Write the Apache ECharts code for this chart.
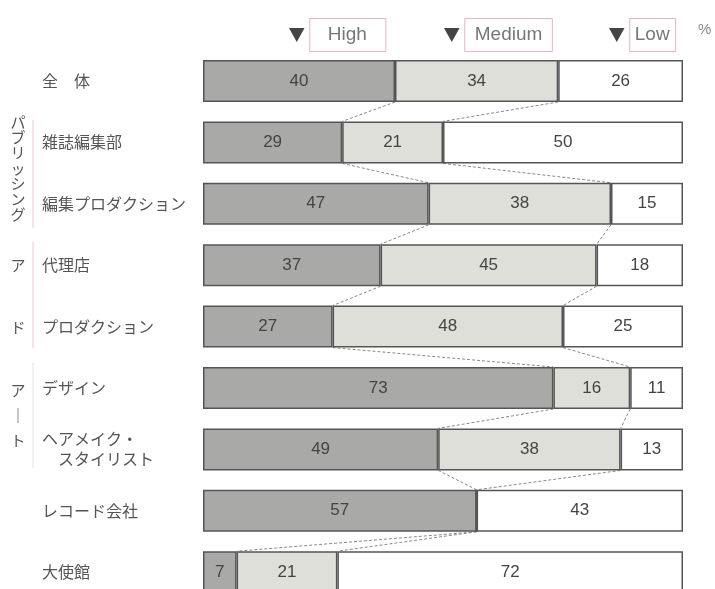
<!DOCTYPE html>
<html>
<head>
<meta charset="utf-8">
<script src="https://cdn.jsdelivr.net/npm/echarts@6/dist/echarts.min.js"></script>
<style>
  html, body { margin: 0; padding: 0; background: #fff; }
  #chart { width: 715px; height: 589px; }
</style>
</head>
<body>
<div id="chart"></div>
<script>
// カテゴリと値（％）
const categories = ['全体', '雑誌編集部', '編集プロダクション', '代理店', 'プロダクション',
    'デザイン', 'ヘアメイク・スタイリスト', 'レコード会社', '大使館'];
const highValues = [40, 29, 47, 37, 27, 73, 49, 57, 7];
const mediumValues = [34, 21, 38, 45, 48, 16, 38, 0, 21];
const lowValues = [26, 50, 15, 18, 25, 11, 13, 43, 72];

// 表示用ラベル
const labelText = {
    '全体': '全　体',
    'ヘアメイク・スタイリスト': 'ヘアメイク・\n　スタイリスト'
};

const BAR_W = 42;
const TRI = 'path://M0,0 L10,0 L5,9 Z';

// 隣り合う棒の境界をつなぐ点線
const connectors = [];
for (let i = 0; i < categories.length - 1; i++) {
    connectors.push([highValues[i], i, highValues[i + 1], i + 1]);
    connectors.push([highValues[i] + mediumValues[i], i, highValues[i + 1] + mediumValues[i + 1], i + 1]);
}

const chart = echarts.init(document.getElementById('chart'));

const numLabel = {
    show: true,
    position: 'inside',
    fontFamily: 'Liberation Sans',
    fontSize: 17,
    color: '#444',
    formatter: p => p.value > 0 ? p.value : ''
};
const segBorder = { borderColor: '#555', borderWidth: 1.5 };

function legendItem(name, left, pad) {
    return {
        left: left,
        top: 13,
        itemWidth: 16,
        itemHeight: 14,
        itemGap: 0,
        selectedMode: false,
        data: [{ name: name, icon: TRI, itemStyle: { color: '#444', borderWidth: 0 } }],
        textStyle: {
            fontFamily: 'Liberation Sans',
            fontSize: 19,
            color: '#777',
            borderColor: '#e8b3c0',
            borderWidth: 1,
            padding: pad
        }
    };
}

chart.setOption({
    animation: false,
    legend: [
        legendItem('High', 284, [7, 19, 7, 18]),
        legendItem('Medium', 439, [7, 10, 7, 10]),
        legendItem('Low', 604, [7, 6, 7, 5])
    ],
    grid: { left: 203, width: 480, top: 50.3, height: 552.6, outerBoundsMode: 'none', containLabel: false },
    xAxis: { type: 'value', min: 0, max: 100, show: false },
    yAxis: {
        type: 'category',
        data: categories,
        inverse: true,
        axisLine: { show: false },
        axisTick: { show: false },
        axisLabel: {
            align: 'left',
            margin: 161,
            fontFamily: 'Noto Sans CJK JP',
            fontSize: 16,
            lineHeight: 20,
            color: '#555',
            formatter: v => labelText[v] || v
        }
    },
    series: [
        {
            name: 'High', type: 'bar', stack: 'all', barWidth: BAR_W,
            data: highValues,
            itemStyle: Object.assign({ color: '#a9aaa7' }, segBorder),
            label: numLabel
        },
        {
            name: 'Medium', type: 'bar', stack: 'all', barWidth: BAR_W,
            data: mediumValues,
            itemStyle: Object.assign({ color: '#dfdfda' }, segBorder),
            label: numLabel
        },
        {
            name: 'Low', type: 'bar', stack: 'all', barWidth: BAR_W,
            data: lowValues,
            itemStyle: Object.assign({ color: '#ffffff' }, segBorder),
            label: numLabel
        },
        {
            type: 'custom',
            data: connectors,
            encode: { x: [0, 2], y: [1, 3] },
            silent: true,
            z: 1,
            renderItem: (params, api) => {
                const a = api.coord([api.value(0), api.value(1)]);
                const b = api.coord([api.value(2), api.value(3)]);
                return {
                    type: 'line',
                    shape: { x1: a[0], y1: a[1] + BAR_W / 2, x2: b[0], y2: b[1] - BAR_W / 2 },
                    style: { stroke: '#888', lineWidth: 1, lineDash: [3, 2] }
                };
            }
        }
    ],
    graphic: [
        { type: 'text', left: 698, top: 22,
          style: { text: '%', fontFamily: 'Liberation Sans', fontSize: 15, fill: '#888' } },
        // グループ見出し（縦書き）
        { type: 'text', x: 18, y: 168,
          style: { text: 'パ\nブ\nリ\nッ\nシ\nン\nグ', align: 'center', verticalAlign: 'middle',
                   lineHeight: 15.4, fontFamily: 'Noto Sans CJK JP', fontSize: 15, fill: '#555' } },
        { type: 'text', x: 18, y: 265,
          style: { text: 'ア', align: 'center', verticalAlign: 'middle',
                   fontFamily: 'Noto Sans CJK JP', fontSize: 15, fill: '#555' } },
        { type: 'text', x: 18, y: 327,
          style: { text: 'ド', align: 'center', verticalAlign: 'middle',
                   fontFamily: 'Noto Sans CJK JP', fontSize: 15, fill: '#555' } },
        { type: 'text', x: 18, y: 415,
          style: { text: 'ア\n｜\nト', align: 'center', verticalAlign: 'middle',
                   lineHeight: 25, fontFamily: 'Noto Sans CJK JP', fontSize: 15, fill: '#555' } },
        { type: 'line', shape: { x1: 33, y1: 120, x2: 33, y2: 228 },
          style: { stroke: '#f2c4cf', lineWidth: 1 } },
        { type: 'line', shape: { x1: 33, y1: 242, x2: 33, y2: 348 },
          style: { stroke: '#f2c4cf', lineWidth: 1 } },
        { type: 'line', shape: { x1: 33, y1: 363, x2: 33, y2: 468 },
          style: { stroke: '#e2e2e2', lineWidth: 1 } }
    ]
});
</script>
</body>
</html>
